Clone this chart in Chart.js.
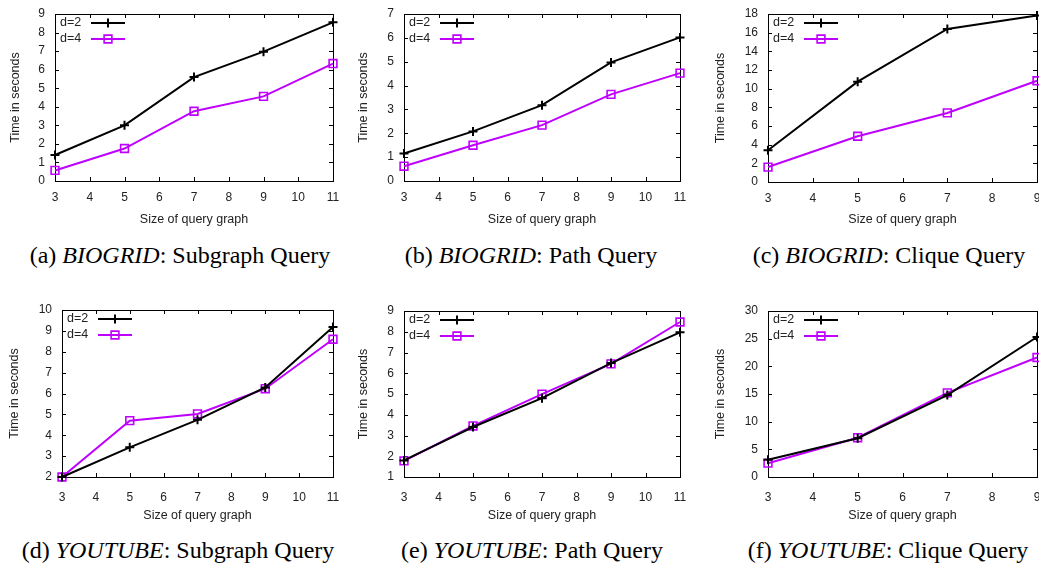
<!DOCTYPE html>
<html>
<head>
<meta charset="utf-8">
<script src="https://cdn.jsdelivr.net/npm/chart.js@4.4.0/dist/chart.umd.min.js"></script>
<style>
  body { margin: 0; background: #fff; }
  #wrap { position: relative; width: 1039px; height: 570px; overflow: hidden; }
  #wrap canvas { position: absolute; }
  .cap { position: absolute; font-family: "Liberation Serif", serif; font-size: 24px; line-height: 24px;
         white-space: nowrap; transform: translateX(-50%); color: #000; }
</style>
</head>
<body>
<div id="wrap"></div>
<script>
// x values (size of query graph)
const sizes = [3, 5, 7, 9, 11];
const cliqueSizes = [3, 5, 7, 9];
const seriesNames = ['d=2', 'd=4'];

// time in seconds
const bioSubgraphD2 = [1.4, 3.0, 5.6, 6.97, 8.55];
const bioSubgraphD4 = [0.57, 1.75, 3.76, 4.56, 6.33];
const bioPathD2 = [1.15, 2.08, 3.18, 4.97, 6.02];
const bioPathD4 = [0.62, 1.5, 2.34, 3.63, 4.52];
const bioCliqueD2 = [3.4, 10.75, 16.4, 17.85];
const bioCliqueD4 = [1.6, 4.9, 7.4, 10.85];
const ytSubgraphD2 = [2.0, 3.42, 4.74, 6.29, 9.18];
const ytSubgraphD4 = [2.0, 4.7, 5.02, 6.23, 8.6];
const ytPathD2 = [1.8, 3.41, 4.8, 6.49, 7.97];
const ytPathD4 = [1.78, 3.46, 4.99, 6.45, 8.47];
const ytCliqueD2 = [3.1, 7.0, 14.8, 25.3];
const ytCliqueD4 = [2.5, 7.1, 15.2, 21.6];

// y axis ticks: [min, max, step]
const bioSubgraphY = [0, 9, 1];
const bioPathY = [0, 7, 1];
const bioCliqueY = [0, 18, 2];
const ytSubgraphY = [2, 10, 1];
const ytPathY = [1, 9, 1];
const ytCliqueY = [0, 30, 5];

const captions = [
  ['(a) ', 'BIOGRID', ': Subgraph Query'],
  ['(b) ', 'BIOGRID', ': Path Query'],
  ['(c) ', 'BIOGRID', ': Clique Query'],
  ['(d) ', 'YOUTUBE', ': Subgraph Query'],
  ['(e) ', 'YOUTUBE', ': Path Query'],
  ['(f) ', 'YOUTUBE', ': Clique Query']
];

const PURPLE = '#bf00ff';
const TEXT = '#222';
const SANS = '"Liberation Sans", Arial, sans-serif';

// panel boxes, in px inside each canvas
const panels = [
  { x0: 0,   y0: 0,   w: 346, xs: sizes,       d2: bioSubgraphD2, d4: bioSubgraphD4, y: bioSubgraphY, left: 55, right: 333, top: 14, bottom: 181, yTitleX: 16, xPad: 9,  xTitleY: 220 },
  { x0: 346, y0: 0,   w: 346, xs: sizes,       d2: bioPathD2,     d4: bioPathD4,     y: bioPathY,     left: 58, right: 334, top: 14, bottom: 181, yTitleX: 18, xPad: 9,  xTitleY: 220 },
  { x0: 692, y0: 0,   w: 347, xs: cliqueSizes, d2: bioCliqueD2,   d4: bioCliqueD4,   y: bioCliqueY,   left: 76, right: 345, top: 14, bottom: 182, yTitleX: 29, xPad: 9,  xTitleY: 220 },
  { x0: 0,   y0: 295, w: 346, xs: sizes,       d2: ytSubgraphD2,  d4: ytSubgraphD4,  y: ytSubgraphY,  left: 62, right: 333, top: 15, bottom: 182, yTitleX: 15, xPad: 13, xTitleY: 221 },
  { x0: 346, y0: 295, w: 346, xs: sizes,       d2: ytPathD2,      d4: ytPathD4,      y: ytPathY,      left: 58, right: 334, top: 16, bottom: 182, yTitleX: 18, xPad: 13, xTitleY: 221 },
  { x0: 692, y0: 295, w: 347, xs: cliqueSizes, d2: ytCliqueD2,    d4: ytCliqueD4,    y: ytCliqueY,    left: 76, right: 345, top: 16, bottom: 182, yTitleX: 29, xPad: 13, xTitleY: 221 }
];
const capCenters = [180, 531, 889, 178, 532, 888];
const capBaselines = [263, 558];
const CANVAS_H = 235;

// border on all four sides with inward tick marks (gnuplot style)
const framePlugin = {
  id: 'frame',
  beforeDatasetsDraw(chart) {
    const { ctx, chartArea: a, scales } = chart;
    ctx.save();
    ctx.strokeStyle = '#000';
    ctx.lineWidth = 1;
    ctx.strokeRect(Math.round(a.left) + 0.5, Math.round(a.top) + 0.5,
      Math.round(a.right - a.left), Math.round(a.bottom - a.top));
    ctx.beginPath();
    scales.x.ticks.forEach(t => {
      const px = Math.round(scales.x.getPixelForValue(t.value)) + 0.5;
      ctx.moveTo(px, a.bottom); ctx.lineTo(px, a.bottom - 4);
      ctx.moveTo(px, a.top); ctx.lineTo(px, a.top + 4);
    });
    scales.y.ticks.forEach(t => {
      const py = Math.round(scales.y.getPixelForValue(t.value)) + 0.5;
      ctx.moveTo(a.left, py); ctx.lineTo(a.left + 4, py);
      ctx.moveTo(a.right, py); ctx.lineTo(a.right - 4, py);
    });
    ctx.stroke();
    ctx.restore();
  }
};

// key drawn inside the plot, top left
const keyPlugin = {
  id: 'key',
  afterDatasetsDraw(chart) {
    const { ctx, chartArea: a } = chart;
    ctx.save();
    chart.data.datasets.forEach((ds, i) => {
      const y = a.top + 9 + i * 16;
      ctx.fillStyle = TEXT;
      ctx.font = '12.5px ' + SANS;
      ctx.textAlign = 'left';
      ctx.textBaseline = 'middle';
      ctx.fillText(ds.label, a.left + 5, y);
      ctx.strokeStyle = ds.borderColor;
      ctx.lineWidth = ds.borderWidth;
      ctx.beginPath();
      ctx.moveTo(a.left + 36, y);
      ctx.lineTo(a.left + 70, y);
      ctx.stroke();
      ctx.fillStyle = 'rgba(0,0,0,0)';
      ctx.lineWidth = ds.pointBorderWidth;
      Chart.helpers.drawPoint(ctx, { pointStyle: ds.pointStyle, radius: ds.pointRadius, borderWidth: ds.pointBorderWidth, rotation: 0 }, a.left + 53, y);
    });
    ctx.restore();
  }
};

const wrap = document.getElementById('wrap');

panels.forEach((p, idx) => {
  const cv = document.createElement('canvas');
  cv.width = p.w;
  cv.height = CANVAS_H;
  cv.style.left = p.x0 + 'px';
  cv.style.top = p.y0 + 'px';
  wrap.appendChild(cv);

  const tickFont = { family: SANS, size: 12 };
  const titleFont = { family: SANS, size: 12.5 };

  new Chart(cv, {
    type: 'line',
    data: {
      datasets: [
        {
          label: seriesNames[0],
          data: p.xs.map((x, i) => ({ x: x, y: p.d2[i] })),
          borderColor: '#000',
          borderWidth: 2,
          pointStyle: 'cross',
          pointRadius: 4.5,
          pointBorderWidth: 2,
          pointBorderColor: '#000',
          pointBackgroundColor: '#000',
          clip: false
        },
        {
          label: seriesNames[1],
          data: p.xs.map((x, i) => ({ x: x, y: p.d4[i] })),
          borderColor: PURPLE,
          borderWidth: 2,
          pointStyle: 'rect',
          pointRadius: 5.5,
          pointBorderWidth: 1.6,
          pointBorderColor: PURPLE,
          pointBackgroundColor: 'rgba(0,0,0,0)',
          clip: false
        }
      ]
    },
    options: {
      responsive: false,
      animation: false,
      events: [],
      layout: { autoPadding: false, padding: { top: p.top, right: p.w - p.right, bottom: 0, left: 0 } },
      plugins: { legend: { display: false }, tooltip: { enabled: false } },
      scales: {
        x: {
          type: 'linear',
          min: p.xs[0],
          max: p.xs[p.xs.length - 1],
          grid: { display: false, drawTicks: false },
          border: { display: false },
          ticks: { stepSize: 1, padding: p.xPad, color: TEXT, font: tickFont, maxRotation: 0 },
          title: { display: true, text: 'Size of query graph', color: TEXT, font: titleFont,
                   padding: { top: 0, bottom: CANVAS_H - p.xTitleY - 7.5 } },
          afterFit(s) { s.height = CANVAS_H - p.bottom; s.paddingLeft = 0; s.paddingRight = 0; }
        },
        y: {
          min: p.y[0],
          max: p.y[1],
          grid: { display: false, drawTicks: false },
          border: { display: false },
          ticks: { stepSize: p.y[2], padding: 10, color: TEXT, font: tickFont },
          title: { display: true, text: 'Time in seconds', color: TEXT, font: titleFont,
                   padding: { top: p.yTitleX - 7.5, bottom: 0 } },
          afterFit(s) { s.width = p.left; s.paddingTop = 0; s.paddingBottom = 0; }
        }
      }
    },
    plugins: [framePlugin, keyPlugin]
  });

  const cap = document.createElement('div');
  cap.className = 'cap';
  cap.innerHTML = captions[idx][0] + '<i>' + captions[idx][1] + '</i>' + captions[idx][2];
  cap.style.left = capCenters[idx] + 'px';
  cap.style.top = (capBaselines[idx < 3 ? 0 : 1] - 20) + 'px';
  wrap.appendChild(cap);
});
</script>
</body>
</html>
